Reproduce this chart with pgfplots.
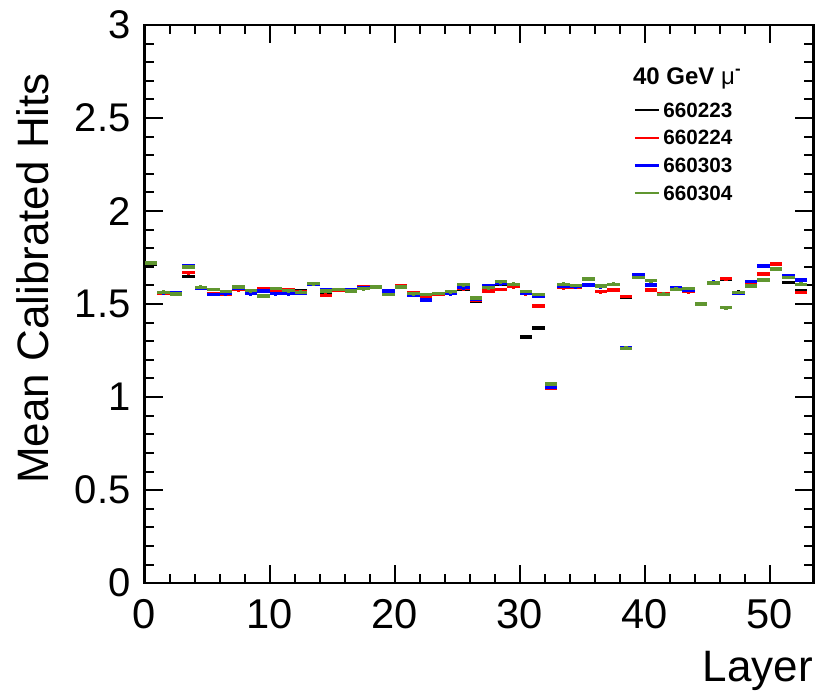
\documentclass[border=0pt]{standalone}
\usepackage{fontspec}
\setmainfont{Liberation Sans}
\usepackage{pgfplots}
\usepackage{pgfplotstable}
\pgfplotsset{compat=1.18}
\definecolor{rootgreen}{RGB}{96,150,48}

% mean calibrated hits per layer, bin centres at layer+0.5
\pgfplotstableread{
x    black red   blue  green
0.5  1.715 1.718 1.722 1.720
1.5  1.558 1.558 1.561 1.563
2.5  1.552 1.553 1.561 1.555
3.5  1.650 1.668 1.704 1.699
4.5  1.585 1.587 1.584 1.590
5.5  1.555 1.555 1.552 1.579
6.5  1.556 1.555 1.556 1.568
7.5  1.583 1.577 1.583 1.591
8.5  1.556 1.565 1.556 1.572
9.5  1.575 1.582 1.570 1.543
10.5 1.575 1.573 1.556 1.584
11.5 1.570 1.579 1.556 1.572
12.5 1.570 1.566 1.557 1.563
13.5 1.606 1.606 1.606 1.609
14.5 1.556 1.547 1.579 1.570
15.5 1.575 1.574 1.579 1.579
16.5 1.574 1.574 1.579 1.570
17.5 1.586 1.593 1.586 1.582
18.5 1.591 1.593 1.591 1.591
19.5 1.557 1.555 1.570 1.552
20.5 1.595 1.597 1.591 1.591
21.5 1.557 1.561 1.547 1.556
22.5 1.540 1.539 1.522 1.552
23.5 1.554 1.554 1.557 1.557
24.5 1.557 1.561 1.556 1.566
25.5 1.579 1.582 1.588 1.604
26.5 1.516 1.520 1.525 1.532
27.5 1.575 1.570 1.600 1.588
28.5 1.605 1.579 1.609 1.620
29.5 1.600 1.593 1.605 1.606
30.5 1.323 1.556 1.557 1.567
31.5 1.372 1.489 1.543 1.552
32.5 1.060 1.048 1.055 1.070
33.5 1.593 1.588 1.597 1.606
34.5 1.593 1.590 1.593 1.600
35.5 1.603 1.605 1.602 1.634
36.5 1.566 1.566 1.593 1.598
37.5 1.575 1.575 1.607 1.607
38.5 1.538 1.540 1.265 1.262
39.5 1.645 1.643 1.656 1.643
40.5 1.575 1.575 1.602 1.625
41.5 1.555 1.556 1.551 1.553
42.5 1.589 1.589 1.589 1.580
43.5 1.566 1.566 1.575 1.584
44.5 1.498 1.499 1.499 1.500
45.5 1.612 1.613 1.617 1.613
46.5 1.634 1.636 1.482 1.480
47.5 1.564 1.562 1.559 1.562
48.5 1.610 1.607 1.621 1.597
49.5 1.660 1.661 1.704 1.629
50.5 1.689 1.716 1.689 1.689
51.5 1.616 1.643 1.652 1.643
52.5 1.571 1.562 1.629 1.607
}\hits

\pgfplotsset{
  hitbar/.style={draw=none, mark=none,
    legend image code/.code={\draw[#1, line width=0.7pt] (0pt,0pt) -- (7.2pt,0pt);},
    error bars/.cd, x dir=both, x fixed=0.5, y dir=both, y fixed=0.01, error mark=none,
    error bar style={draw=#1, line width=1pt, solid}},
}

\begin{document}
\begin{tikzpicture}
\begin{axis}[
    scale only axis,
    width=200.6pt,
    height=167.4pt,
    xmin=0, xmax=53.5,
    ymin=0, ymax=3,
    xtick={0,10,20,30,40,50},
    minor x tick num=4,
    ytick={0,0.5,1,1.5,2,2.5,3},
    yticklabels={0,0.5,1,1.5,2,2.5,3},
    minor y tick num=4,
    tick align=inside,
    xticklabel pos=lower,
    yticklabel pos=left,
    major tick length=5.5pt,
    minor tick length=2.8pt,
    every tick/.style={black, line width=0.6pt},
    axis line style={line width=0.8pt},
    tick label style={inner sep=0pt},
    /pgf/number format/assume math mode=true,
    xticklabel style={yshift=-4.6pt, font=\fontsize{12.5}{13}\selectfont},
    yticklabel style={xshift=-4pt, font=\fontsize{12}{13}\selectfont},
    xlabel={Layer},
    ylabel={Mean Calibrated Hits},
    every axis x label/.style={at={(rel axis cs:1,0)}, anchor=base east, yshift=-29.4pt,
        font=\fontsize{13.2}{14}\selectfont, inner sep=0pt},
    every axis y label/.style={at={(rel axis cs:-0.1667,0.546)}, rotate=90, anchor=center,
        font=\fontsize{13.2}{14}\selectfont, inner sep=0pt},
    legend cell align=left,
    legend style={at={(rel axis cs:0.7305,0.862)}, anchor=north west, draw=none, fill=none,
        inner sep=0pt, row sep=4pt,
        font=\bfseries\fontsize{6.2}{7}\selectfont,
        nodes={inner sep=0pt, text depth=0pt},
        /tikz/every odd column/.append style={column sep=1.0pt}},
]

\addplot[hitbar=black] table[x=x, y=black] {\hits};
\addlegendentry{660223}

\addplot[hitbar=red] table[x=x, y=red] {\hits};
\addlegendentry{660224}

\addplot[hitbar=blue] table[x=x, y=blue] {\hits};
\addlegendentry{660303}

\addplot[hitbar=rootgreen] table[x=x, y=green] {\hits};
\addlegendentry{660304}

\node[anchor=west, inner sep=0pt, font=\bfseries\fontsize{7.2}{8}\selectfont]
    at (rel axis cs:0.7295,0.905) {40 GeV {\mdseries μ}\textsuperscript{-}};
\end{axis}
\pgfresetboundingbox
\path[use as bounding box] (-43.35pt,-32.4pt) rectangle (201.7pt,174.9pt);
\end{tikzpicture}
\end{document}
